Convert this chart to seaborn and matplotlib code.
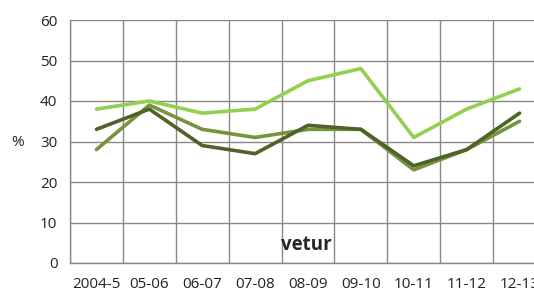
import matplotlib
matplotlib.use('Agg')
import matplotlib.pyplot as plt
import seaborn as sns
import pandas as pd
import numpy as np

# Data
seasons = ['2004-5', '05-06', '06-07', '07-08', '08-09', '09-10', '10-11', '11-12', '12-13']
light = [38, 40, 37, 38, 45, 48, 31, 38, 43]
mid = [28, 39, 33, 31, 33, 33, 23, 28, 35]
dark = [33, 38, 29, 27, 34, 33, 24, 28, 37]

series_names = ['light', 'mid', 'dark']
colors = {'light': '#92D050', 'mid': '#77933C', 'dark': '#4F6228'}

df = pd.DataFrame({'season': seasons, 'light': light, 'mid': mid, 'dark': dark})
long = df.melt(id_vars='season', var_name='series', value_name='pct')
long['x'] = long['season'].map({s: i for i, s in enumerate(seasons)})

sns.set_style('white')
plt.rcParams['font.family'] = ['Open Sans', 'DejaVu Sans']

fig = plt.figure(figsize=(5.34, 2.96), dpi=100)
ax = fig.add_axes([70 / 534, 33 / 296, 476 / 534, 243 / 296])

sns.lineplot(data=long, x='x', y='pct', hue='series', hue_order=['light', 'mid', 'dark'],
             palette=colors, linewidth=2.6, legend=False, ax=ax)

ax.set_xlim(-0.5, len(seasons) - 0.5)
ax.set_ylim(0, 60)
ax.set_yticks(range(0, 61, 10))
ax.set_xticks(range(len(seasons)))
ax.set_xticklabels(seasons)
ax.set_xticks(np.arange(-0.5, len(seasons), 1), minor=True)
ax.tick_params(axis='x', which='major', length=0, pad=10, labelsize=11, colors='#222222')
ax.tick_params(axis='x', which='minor', length=5, color='#888888', width=1)
ax.tick_params(axis='y', length=5, color='#888888', width=1, labelsize=11, pad=4)
for lab in ax.get_yticklabels():
    lab.set_color('#222222')

ax.grid(True, which='major', axis='y', color='#888888', linewidth=1)
ax.grid(True, which='minor', axis='x', color='#888888', linewidth=1)
ax.set_axisbelow(True)
for side in ['top', 'right']:
    ax.spines[side].set_visible(False)
for side in ['left', 'bottom']:
    ax.spines[side].set_color('#888888')
    ax.spines[side].set_linewidth(1)

ax.set_xlabel('')
ax.set_ylabel('')
fig.text(18 / 534, 1 - 142 / 296, '%', fontsize=11, ha='center', va='center', color='#222222')
fig.text(306 / 534, 1 - 245 / 296, 'vetur', fontsize=13.5, fontweight='bold', ha='center', va='center')

fig.savefig('out.png', dpi=100)
